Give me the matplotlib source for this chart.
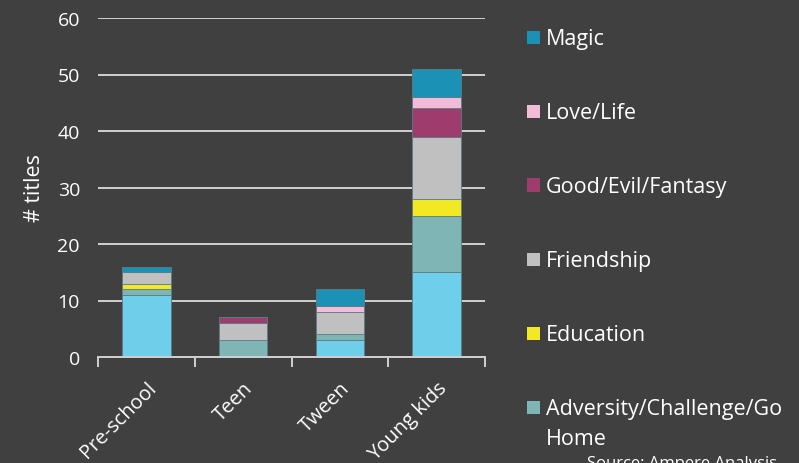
import matplotlib
matplotlib.use("Agg")
import matplotlib.pyplot as plt
from matplotlib.patches import Rectangle
import numpy as np

categories = ["Pre-school", "Teen", "Tween", "Young kids"]

# stacked series, bottom to top
series_names = ["Adventure", "Adversity/Challenge/Go\nHome", "Education",
                "Friendship", "Good/Evil/Fantasy", "Love/Life", "Magic"]
adventure = [11, 0, 3, 15]
adversity = [1, 3, 1, 10]
education = [1, 0, 0, 3]
friendship = [2, 3, 4, 11]
good_evil = [0, 1, 0, 5]
love_life = [0, 0, 1, 2]
magic = [1, 0, 3, 5]
series_values = [adventure, adversity, education, friendship, good_evil, love_life, magic]
colors = ["#6FCFEA", "#7FB5B5", "#F2E824", "#BFC0BF", "#9E3C6E", "#F2BCD9", "#1B91B5"]

yticks = [0, 10, 20, 30, 40, 50, 60]

BG = "#404040"
FG = "#FFFFFF"
GRID = "#D0D0D0"
W, H = 799, 464
plt.rcParams["font.family"] = ["Open Sans", "DejaVu Sans"]

fig = plt.figure(figsize=(W / 100, H / 100), dpi=100, facecolor=BG)
ax = fig.add_axes([98 / W, 1 - 358 / H, (485 - 98) / W, (358 - 19) / H], facecolor=BG)

x = np.arange(len(categories))
bottom = np.zeros(len(categories))
for name, vals, col in zip(series_names, series_values, colors):
    v = np.array(vals, dtype=float)
    ax.bar(x, v, bottom=bottom, width=0.5, color=col, edgecolor="#5A7F86",
           linewidth=0.6, zorder=3, label=name)
    bottom += v

ax.set_xlim(-0.5, len(categories) - 0.5)
ax.set_ylim(0, 60)
ax.set_yticks(yticks)
ax.yaxis.grid(True, color=GRID, linewidth=1.4, zorder=0)
ax.set_axisbelow(True)
for s in ["top", "right", "left"]:
    ax.spines[s].set_visible(False)
ax.spines["bottom"].set_color(GRID)
ax.spines["bottom"].set_linewidth(1.4)
ax.spines["bottom"].set_zorder(4)

ax.tick_params(axis="y", length=0, pad=13, labelsize=14, labelcolor=FG)
ax.set_xticks(x)
ax.set_xticklabels(categories, rotation=45, ha="right", rotation_mode="anchor",
                   fontsize=14.5, color=FG)
ax.tick_params(axis="x", which="major", length=0, pad=15)
ax.set_xticks(np.arange(-0.5, len(categories)), minor=True)
ax.tick_params(axis="x", which="minor", length=7, width=1.4, color=GRID)

ax.set_ylabel("# titles", color=FG, fontsize=15.5, labelpad=9)

# legend, top entry first, drawn in figure pixel coordinates
line_step = 30
for i, idx in enumerate(range(len(series_names) - 1, -1, -1)):
    yc = 38 + i * 74
    fig.patches.append(Rectangle((527 / W, 1 - (yc + 6.5) / H), 13 / W, 13 / H,
                                 transform=fig.transFigure, facecolor=colors[idx],
                                 edgecolor="none"))
    for k, line in enumerate(series_names[idx].split("\n")):
        fig.text(546 / W, 1 - (yc + 7 + k * line_step) / H, line, color=FG,
                 fontsize=15.5, va="baseline", ha="left")

fig.text(587 / W, 1 - 456 / H, "Source: Ampere Analysis", color=FG, fontsize=12,
         va="top", ha="left")

fig.savefig("out.png", dpi=100, facecolor=BG)
